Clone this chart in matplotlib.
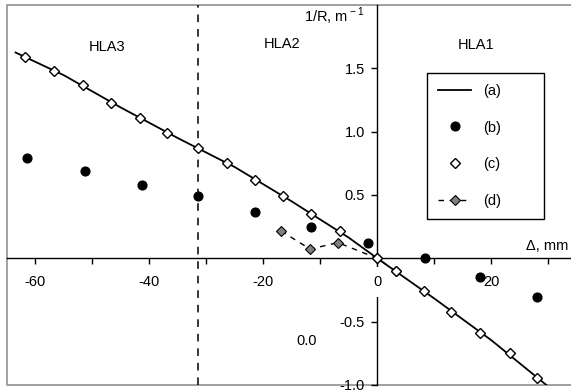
import matplotlib
matplotlib.use('Agg')
import matplotlib.pyplot as plt
from matplotlib.ticker import MultipleLocator, FuncFormatter
from matplotlib.lines import Line2D

plt.rcParams['font.family'] = ['Liberation Sans', 'DejaVu Sans']
plt.rcParams['font.size'] = 10.5
plt.rcParams['axes.unicode_minus'] = False
plt.rcParams['mathtext.fontset'] = 'custom'
plt.rcParams['mathtext.rm'] = 'Liberation Sans'

# (a) curve
a_x = [-63.5, -55, -45, -35, -25, -15, -5, 0, 10, 20, 30.5]
a_y = [1.625, 1.445, 1.19, 0.949, 0.72, 0.449, 0.163, 0.0, -0.317, -0.646, -1.03]

# (b) filled circles
b_x = [-61.5, -51.3, -41.3, -31.4, -21.5, -11.6, -1.6, 8.3, 18.1, 28.0]
b_y = [0.796, 0.69, 0.58, 0.493, 0.362, 0.244, 0.125, 0.0, -0.151, -0.308]

# (c) open diamonds
c_x = [-61.8, -56.7, -51.6, -46.8, -41.7, -36.9, -31.4, -26.3, -21.5, -16.5,
       -11.7, -6.6, 0.0, 3.2, 8.2, 13.0, 18.1, 23.3, 28.0]
c_y = [1.589, 1.478, 1.37, 1.228, 1.11, 0.986, 0.873, 0.752, 0.618, 0.49,
       0.349, 0.215, 0.0, -0.1, -0.256, -0.42, -0.586, -0.748, -0.944]

# (d) grey diamonds, dashed
d_x = [-16.9, -11.8, -6.9, 0.0, 3.2]
d_y = [0.216, 0.073, 0.124, 0.0, -0.1]

border_x = -31.4   # HLA3 / HLA2
regions = ['HLA3', 'HLA2', 'HLA1']
region_x = [-47.5, -16.7, 17.4]
region_y = [1.667, 1.693, 1.683]

fig = plt.figure(figsize=(5.71, 3.90), dpi=100)
ax = fig.add_axes([7/571, 5/390, 564/571, 380/390])
ax.set_xlim(-65, 34)
ax.set_ylim(-1, 2)

for s in ['top', 'right']:
    ax.spines[s].set_visible(False)
ax.spines['left'].set_position(('data', 0))
ax.spines['bottom'].set_position(('data', 0))
ax.spines['left'].set_linewidth(1.0)
ax.spines['bottom'].set_linewidth(1.0)
# grey outer frame
ax.plot([1, 0, 0, 1], [1, 1, 0, 0], transform=ax.transAxes, color='#909090',
        lw=1.2, clip_on=False, zorder=1)

ax.xaxis.set_major_locator(MultipleLocator(10))
ax.xaxis.set_major_formatter(FuncFormatter(lambda v, p: '%d' % v if round(v) % 20 == 0 else ''))
ax.set_yticks([-1.0, -0.5, 0.5, 1.0, 1.5])
ax.yaxis.set_major_formatter(FuncFormatter(lambda v, p: '%.1f' % v))
ax.tick_params(axis='x', direction='out', length=4, width=1, pad=8)
ax.tick_params(axis='y', direction='out', length=4, width=1, pad=5)
ax.xaxis.set_zorder(2.6)
fig.canvas.draw()
for lab in ax.get_xticklabels():
    if lab.get_text() == '0':
        lab.set_bbox(dict(facecolor='white', edgecolor='none', pad=6))

ax.axvline(border_x, color='black', lw=1.1, ls=(0, (5, 4.5)), zorder=2)

ax.plot(d_x, d_y, color='black', lw=1.0, ls=(0, (4, 4)), marker='D', ms=5,
        mfc='#808080', mec='black', mew=0.8, zorder=3)
ax.plot(a_x, a_y, color='black', lw=1.3, zorder=3)
ax.plot(b_x, b_y, ls='none', marker='o', ms=6.3, color='black', zorder=4)
ax.plot(c_x, c_y, ls='none', marker='D', ms=5, mfc='white', mec='black', mew=1.0, zorder=4)

for name, x, y in zip(regions, region_x, region_y):
    ax.text(x, y, name, ha='center', va='center')
ax.text(-2.3, 1.91, '1/R, m$^{\\rm -1}$', ha='right', va='center')
ax.text(33.5, 0.098, '\u0394, mm', ha='right', va='center')
ax.text(-12.4, -0.656, '0.0', ha='center', va='center')

handles = [
    Line2D([], [], color='black', lw=1.3),
    Line2D([], [], ls='none', marker='o', ms=6.3, color='black'),
    Line2D([], [], ls='none', marker='D', ms=5, mfc='white', mec='black', mew=1.0),
    Line2D([], [], color='black', lw=1.0, ls=(0, (4, 4)), marker='D', ms=5,
           mfc='#808080', mec='black', mew=0.8),
]
leg = ax.legend(handles, ['(a)', '(b)', '(c)', '(d)'], loc='upper left',
                bbox_to_anchor=(0.7447, 0.4, 0.2074, 0.4211), mode='expand',
                borderaxespad=0, borderpad=0.75, labelspacing=1.55,
                handlelength=2.3, handletextpad=0.8, fancybox=False,
                framealpha=1, edgecolor='black')
leg.get_frame().set_linewidth(1.0)
leg.set_zorder(5)

fig.savefig('out.png', dpi=100)
